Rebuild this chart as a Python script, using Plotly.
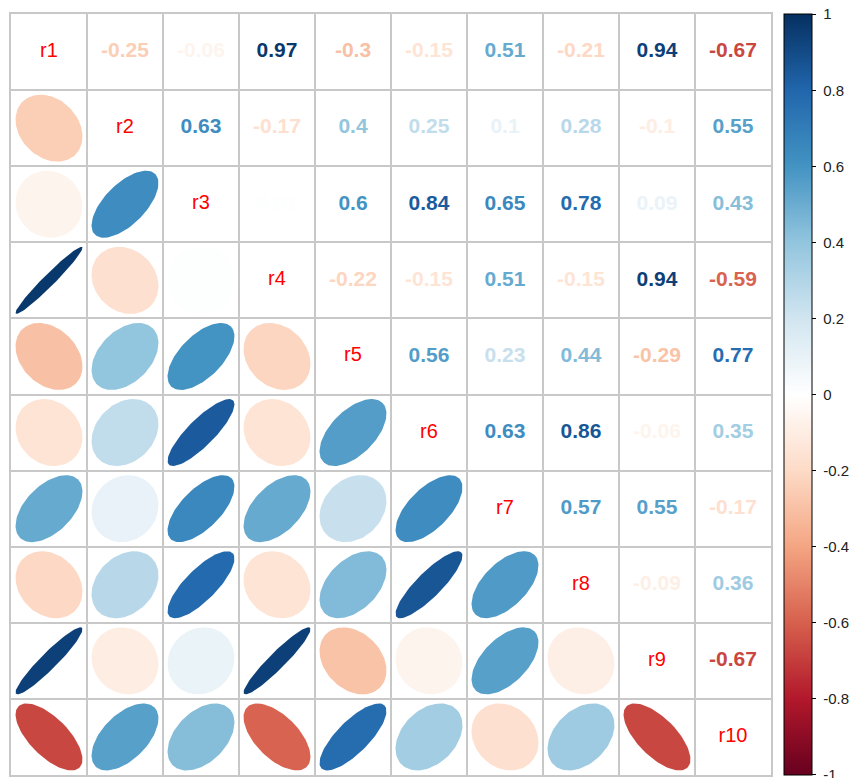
import numpy as np
import plotly.graph_objects as go

labels = ["r1", "r2", "r3", "r4", "r5", "r6", "r7", "r8", "r9", "r10"]
# upper-triangle correlations, row by row
upper = [
    [-0.25, -0.06, 0.97, -0.30, -0.15, 0.51, -0.21, 0.94, -0.67],
    [0.63, -0.17, 0.40, 0.25, 0.10, 0.28, -0.10, 0.55],
    [0.01, 0.60, 0.84, 0.65, 0.78, 0.09, 0.43],
    [-0.22, -0.15, 0.51, -0.15, 0.94, -0.59],
    [0.56, 0.23, 0.44, -0.29, 0.77],
    [0.63, 0.86, -0.06, 0.35],
    [0.57, 0.55, -0.17],
    [-0.09, 0.36],
    [-0.67],
]
palette = ["#67001F", "#B2182B", "#D6604D", "#F4A582", "#FDDBC7", "#FFFFFF",
           "#D1E5F0", "#92C5DE", "#4393C3", "#2166AC", "#053061"]
colorbar_ticks = [-1, -0.8, -0.6, -0.4, -0.2, 0, 0.2, 0.4, 0.6, 0.8, 1]

n = len(labels)
M = np.eye(n)
for i, row in enumerate(upper):
    for k, v in enumerate(row):
        j = i + 1 + k
        M[i, j] = v
        M[j, i] = v

def hex2rgb(h):
    h = h.lstrip("#")
    return np.array([int(h[i:i + 2], 16) for i in (0, 2, 4)], dtype=float)

pal = [hex2rgb(c) for c in palette]

def color_of(v):
    t = (v + 1) / 2 * (len(pal) - 1)
    i0 = int(np.floor(t))
    i0 = min(max(i0, 0), len(pal) - 2)
    f = t - i0
    c = pal[i0] * (1 - f) + pal[i0 + 1] * f
    return "rgb(%d,%d,%d)" % tuple(np.round(c).astype(int))

def fmt(v):
    s = ("%.2f" % v).rstrip("0").rstrip(".")
    if s in ("-0", ""):
        s = "0"
    return s

fig = go.Figure()
scale = 0.88
k = np.linspace(0, 2 * np.pi, 99)
for i in range(n):
    for j in range(n):
        if i > j:
            r = M[i, j]
            a = np.arccos(r) / 2
            cx = j + 1
            cy = n - i
            xs = cx + scale * np.cos(k + a) / 2
            ys = cy + scale * np.cos(k - a) / 2
            col = color_of(r)
            fig.add_trace(go.Scatter(x=xs, y=ys, mode="lines", fill="toself",
                                     fillcolor=col, line=dict(width=0, color=col),
                                     hoverinfo="skip", showlegend=False))

# numbers in upper triangle
tx, ty, tt, tc = [], [], [], []
for i in range(n):
    for j in range(i + 1, n):
        tx.append(j + 1)
        ty.append(n - i)
        tt.append(fmt(M[i, j]))
        tc.append(color_of(M[i, j]))
fig.add_trace(go.Scatter(x=tx, y=ty, mode="text", text=tt,
                         textfont=dict(family="Liberation Sans", size=21, color=tc, weight="bold"),
                         hoverinfo="skip", showlegend=False))

# diagonal labels
fig.add_trace(go.Scatter(x=[i + 1 for i in range(n)], y=[n - i for i in range(n)],
                         mode="text", text=labels,
                         textfont=dict(family="Liberation Sans", size=20, color="#FF0000"),
                         hoverinfo="skip", showlegend=False))

# colorbar
cs = [[i / (len(palette) - 1), c] for i, c in enumerate(palette)]
fig.add_trace(go.Scatter(x=[None], y=[None], mode="markers",
                         marker=dict(color=[0], colorscale=cs, cmin=-1.0005, cmax=1.0005, showscale=True,
                                     colorbar=dict(x=1.017, xanchor="left", xpad=0, y=0.5, yanchor="middle",
                                                   len=1, lenmode="fraction", ypad=0, thickness=28,
                                                   outlinecolor="black", outlinewidth=1,
                                                   tickvals=colorbar_ticks,
                                                   ticktext=["\u00a0" + fmt(v) for v in colorbar_ticks],
                                                   ticklabeloverflow="allow",
                                                   ticks="outside", ticklen=4, tickcolor="black",
                                                   tickfont=dict(family="Liberation Sans", size=15, color="#222222"))),
                         hoverinfo="skip", showlegend=False))

grid = [v + 0.5 for v in range(n + 1)]
axis_common = dict(range=[0.5, n + 0.5], tickvals=grid, showticklabels=False, ticks="",
                   showgrid=True, gridcolor="#C8C8C8", gridwidth=1.5, zeroline=False,
                   showline=True, linecolor="#C8C8C8", linewidth=1.5, mirror=True, fixedrange=True)
fig.update_xaxes(**axis_common)
fig.update_yaxes(**axis_common)
fig.update_layout(width=853, height=770, margin=dict(l=3, r=90, t=6, b=3),
                  plot_bgcolor="white", paper_bgcolor="white")
fig.write_html("out.html")
